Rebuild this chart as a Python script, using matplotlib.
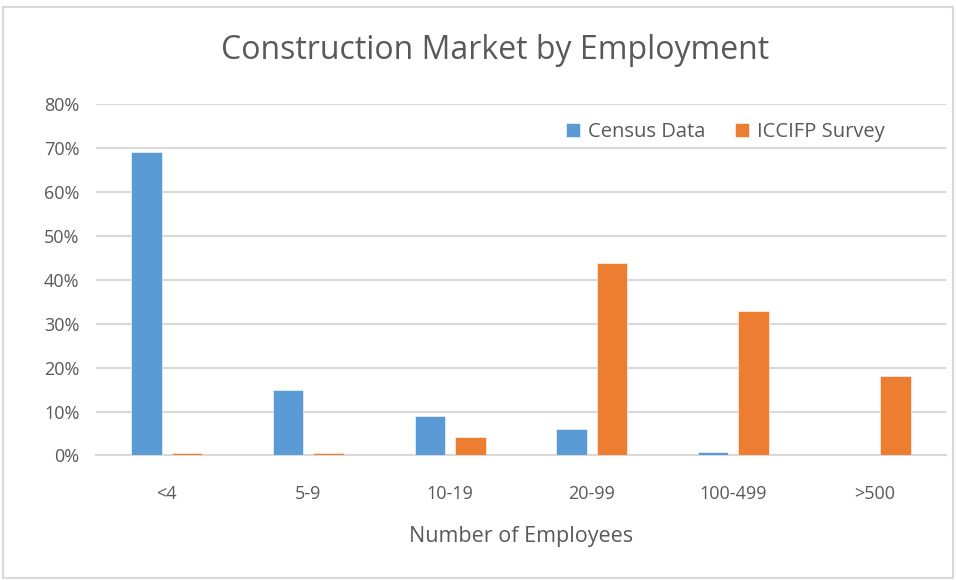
import numpy as np
import matplotlib.pyplot as plt
from matplotlib.patches import Rectangle

categories = ['<4', '5-9', '10-19', '20-99', '100-499', '>500']
census = [0.691, 0.149, 0.090, 0.061, 0.008, 0.0]
iccifp = [0.006, 0.006, 0.043, 0.439, 0.328, 0.181]

blue = '#5B9BD5'
orange = '#ED7D31'
grey = '#595959'
plt.rcParams['font.family'] = ['Open Sans', 'DejaVu Sans']

fig = plt.figure(figsize=(9.56, 5.8), dpi=100)
ax = fig.add_axes([0.1004, 0.2147, 0.889, 0.606])

x = np.arange(len(categories))
w = 0.215
ax.bar(x - 0.143, census, w, color=blue, edgecolor='white', linewidth=0.4, label='Census Data', zorder=3)
ax.bar(x + 0.143, iccifp, w, color=orange, edgecolor='white', linewidth=0.4, label='ICCIFP Survey', zorder=3)

ax.set_xlim(-0.5, len(categories) - 0.5)
ax.set_ylim(0, 0.8)
ax.set_yticks(np.arange(0, 0.81, 0.1))
ax.set_yticklabels([f'{int(round(v*100))}%' for v in np.arange(0, 0.81, 0.1)])
ax.set_xticks(x)
ax.set_xticklabels(categories)
ax.grid(axis='y', color='#D9D9D9', linewidth=1.5, zorder=0)
for s in ['top', 'right', 'left']:
    ax.spines[s].set_visible(False)
ax.spines['bottom'].set_color('#D9D9D9')
ax.spines['bottom'].set_linewidth(1.5)
ax.tick_params(axis='both', length=0, labelsize=13, labelcolor=grey)
ax.tick_params(axis='x', pad=21)
ax.tick_params(axis='y', pad=12)
ax.set_xlabel('Number of Employees', fontsize=15.5, color=grey, labelpad=17)

fig.text(0.518, 0.913, 'Construction Market by Employment', ha='center', va='center',
         fontsize=23, color=grey)

ax.legend(loc='upper right', bbox_to_anchor=(0.95, 1.0), ncol=2, frameon=False,
          fontsize=14.5, labelcolor=grey, handlelength=0.7, handleheight=0.7,
          handletextpad=0.4, columnspacing=1.5)

fig.patches.append(Rectangle((0.003, 0.003), 0.994, 0.985, transform=fig.transFigure,
                             fill=False, edgecolor='#D9D9D9', linewidth=1.5))

fig.savefig('out.png', dpi=100)
